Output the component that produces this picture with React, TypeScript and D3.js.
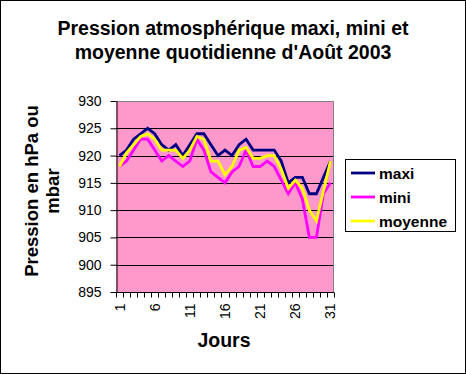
import React, { useEffect, useRef } from 'react';
import * as d3 from 'd3';

const days = d3.range(1, 32).map(String);
const maxi = [920, 921, 923, 924, 925, 924, 922, 921, 922, 920, 922, 924, 924, 922, 920, 921, 920, 922, 923, 921, 921, 921, 921, 919, 915, 916, 916, 913, 913, 916, 919];
const mini = [918, 919, 921, 923, 923, 921, 919, 920, 919, 918, 919, 923, 921, 917, 916, 915, 917, 918, 921, 918, 918, 919, 918, 915.5, 913, 915, 912, 905, 905, 913, 915];
const moyenne = [918, 920.5, 922, 923.5, 924, 923, 921, 921, 921, 919.5, 921, 923.5, 923, 919, 919, 916.5, 918, 921, 921.5, 919.5, 919.5, 920, 920, 917.5, 914, 915.5, 914, 910, 908, 913.5, 919];
const yTicks = [895, 900, 905, 910, 915, 920, 925, 930];
const xLabels = ['1', '6', '11', '16', '21', '26', '31'];

const series = [
  { name: 'maxi', values: maxi, color: '#000080' },
  { name: 'mini', values: mini, color: '#FF00FF' },
  { name: 'moyenne', values: moyenne, color: '#FFFF00' },
];

const W = 466;
const H = 374;
const font = '"Liberation Sans", Arial, sans-serif';

const App: React.FC = () => {
  const svgRef = useRef<SVGSVGElement>(null);

  useEffect(() => {
    if (!svgRef.current) return;
    const svg = d3.select(svgRef.current);
    svg.selectAll('*').remove();

    const plot = { left: 116, right: 334, top: 101, bottom: 292 };

    const x = d3.scaleBand().domain(days).range([plot.left, plot.right]).padding(0);
    const y = d3.scaleLinear().domain([895, 930]).range([plot.bottom, plot.top]);

    // background + outer border
    svg.append('rect')
      .attr('x', 0.5).attr('y', 0.5)
      .attr('width', W - 1).attr('height', H - 1)
      .attr('fill', '#fff').attr('stroke', '#000');

    // title
    const title = svg.append('text')
      .attr('text-anchor', 'middle')
      .attr('font-family', font)
      .attr('font-weight', 'bold')
      .attr('font-size', 19.5);
    title.append('tspan').attr('x', 233).attr('y', 35).text('Pression atmosphérique maxi, mini et');
    title.append('tspan').attr('x', 233).attr('y', 59).text("moyenne quotidienne d'Août 2003");

    // plot area
    svg.append('rect')
      .attr('x', plot.left).attr('y', plot.top)
      .attr('width', plot.right - plot.left).attr('height', plot.bottom - plot.top)
      .attr('fill', '#FF99CC');

    // gridlines
    svg.append('g')
      .selectAll('line')
      .data(yTicks.filter(t => t !== 895 && t !== 930))
      .enter().append('line')
      .attr('x1', plot.left).attr('x2', plot.right)
      .attr('y1', d => Math.round(y(d)) + 0.5).attr('y2', d => Math.round(y(d)) + 0.5)
      .attr('stroke', '#000');

    // plot border (top/right gray)
    svg.append('path')
      .attr('d', `M${plot.left},${plot.top + 0.5}H${plot.right - 0.5}V${plot.bottom}`)
      .attr('fill', 'none')
      .attr('stroke', '#808080');

    // y axis
    svg.append('g')
      .attr('transform', `translate(${plot.left + 0.5},0)`)
      .call(d3.axisLeft(y).tickValues(yTicks).tickSize(6).tickPadding(9).tickSizeOuter(0))
      .call(g => g.selectAll('line').attr('stroke', '#000'))
      .call(g => g.select('.domain').attr('stroke', '#000'))
      .call(g => g.selectAll('.tick text')
        .attr('font-family', font).attr('font-size', 14).attr('fill', '#000'));

    // x axis
    const xAxis = svg.append('g').attr('transform', `translate(0,${plot.bottom + 0.5})`);
    xAxis.append('line')
      .attr('x1', plot.left).attr('x2', plot.right)
      .attr('stroke', '#000');
    xAxis.selectAll('line.tk')
      .data(d3.range(0, days.length + 1))
      .enter().append('line')
      .attr('class', 'tk')
      .attr('x1', i => Math.round(plot.left + i * x.step()) + 0.5)
      .attr('x2', i => Math.round(plot.left + i * x.step()) + 0.5)
      .attr('y1', 0).attr('y2', 5)
      .attr('stroke', '#000');
    xAxis.selectAll('text')
      .data(xLabels)
      .enter().append('text')
      .attr('transform', d => `translate(${(x(d) || 0) + x.bandwidth() / 2 + 5},${11}) rotate(-90)`)
      .attr('text-anchor', 'end')
      .attr('font-family', font)
      .attr('font-size', 14)
      .text(d => d);

    // axis titles
    const yTitle = svg.append('text')
      .attr('transform', `translate(0,191) rotate(-90)`)
      .attr('text-anchor', 'middle')
      .attr('font-family', font)
      .attr('font-weight', 'bold')
      .attr('font-size', 18.5);
    yTitle.append('tspan').attr('x', 0).attr('y', 38).text('Pression en hPa ou');
    yTitle.append('tspan').attr('x', 0).attr('y', 59).text('mbar');

    svg.append('text')
      .attr('x', 224).attr('y', 347)
      .attr('text-anchor', 'middle')
      .attr('font-family', font)
      .attr('font-weight', 'bold')
      .attr('font-size', 19.5)
      .text('Jours');

    // lines
    const line = d3.line<number>()
      .x((_, i) => (x(days[i]) || 0) + x.bandwidth() / 2)
      .y(d => y(d));

    series.forEach(s => {
      svg.append('path')
        .datum(s.values)
        .attr('d', line)
        .attr('fill', 'none')
        .attr('stroke', s.color)
        .attr('stroke-width', 2.8)
        .attr('stroke-linejoin', 'miter');
    });

    // legend
    const legend = svg.append('g');
    legend.append('rect')
      .attr('x', 345.5).attr('y', 159.5)
      .attr('width', 110).attr('height', 72)
      .attr('fill', '#fff').attr('stroke', '#000');
    const items = legend.selectAll('g.item')
      .data(series)
      .enter().append('g')
      .attr('class', 'item')
      .attr('transform', (_, i) => `translate(351,${173 + i * 24})`);
    items.append('line')
      .attr('x1', 0).attr('x2', 24)
      .attr('stroke', d => d.color)
      .attr('stroke-width', 2.8);
    items.append('text')
      .attr('x', 28).attr('y', 5.5)
      .attr('font-family', font)
      .attr('font-weight', 'bold')
      .attr('font-size', 15.5)
      .text(d => d.name);
  }, []);

  return (
    <div style={{ position: 'absolute', left: 0, top: 0 }}>
      <svg ref={svgRef} width={W} height={H} style={{ display: 'block' }} />
    </div>
  );
};

export default App;
